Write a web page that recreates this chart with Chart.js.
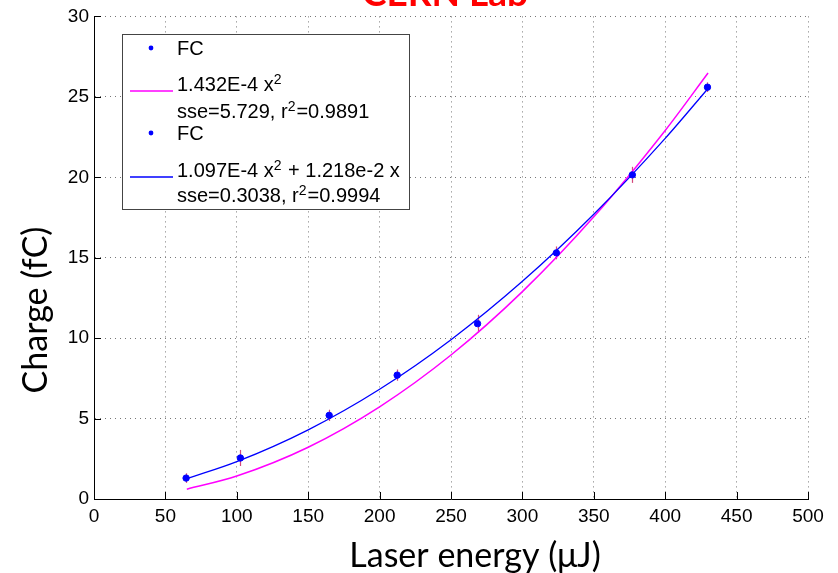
<!DOCTYPE html>
<html><head><meta charset="utf-8">
<script src="https://cdn.jsdelivr.net/npm/chart.js@4/dist/chart.umd.min.js"></script>
<style>html,body{margin:0;padding:0;background:#fff;}#wrap{width:838px;height:573px;}</style>
</head><body><div id="wrap"><canvas id="c" width="838" height="573"></canvas></div>
<script>
// ---- data ----
const chartTitle = 'CERN Lab';
const xTitle = 'Laser energy (μJ)';
const yTitle = 'Charge (fC)';
const energy = [64.5, 102.5, 164.7, 212.3, 268.6, 323.8, 377.0, 429.6];
const charge = [1.3, 2.55, 5.2, 7.7, 10.9, 15.3, 20.15, 25.6];
const chargeErr = [0.3, 0.5, 0.35, 0.35, 0.55, 0.4, 0.5, 0.3];
const fitEnergy = [65, 100, 150, 200, 250, 300, 350, 400, 430];
const fitQuad = [0.61, 1.43, 3.22, 5.73, 8.95, 12.89, 17.54, 22.91, 26.48];
const fitQuadLin = [1.26, 2.32, 4.30, 6.82, 9.90, 13.53, 17.70, 22.42, 25.52];
const xTicks = [0, 50, 100, 150, 200, 250, 300, 350, 400, 450, 500];
const yTicks = [0, 5, 10, 15, 20, 25, 30];
const legendRows = [
  {kind: 'dot', parts: [['FC', false]]},
  {kind: 'magenta', parts: [['1.432E-4 x', false], ['2', true]]},
  {kind: 'none', parts: [['sse=5.729, r', false], ['2', true], ['=0.9891', false]]},
  {kind: 'dot', parts: [['FC', false]]},
  {kind: 'blue', parts: [['1.097E-4 x', false], ['2', true], [' + 1.218e-2 x', false]]},
  {kind: 'none', parts: [['sse=0.3038, r', false], ['2', true], ['=0.9994', false]]}
];

const BLUE = '#0000ff', MAG = '#ff00ff', ERR = 'rgba(205,40,100,0.85)';
const FONT = '"Liberation Sans", Arial, sans-serif';

const pts = (xs, ys) => xs.map((x, i) => ({x: x, y: ys[i]}));

const overlay = {
  id: 'overlay',
  beforeDatasetsDraw(chart) {
    const {ctx, scales: {x, y}} = chart;
    ctx.save();
    ctx.setLineDash([]);
    ctx.strokeStyle = ERR; ctx.lineWidth = 1.2;
    energy.forEach((e, i) => {
      const px = Math.round(x.getPixelForValue(e)) + 0.5;
      ctx.beginPath();
      ctx.moveTo(px, y.getPixelForValue(charge[i] - chargeErr[i]));
      ctx.lineTo(px, y.getPixelForValue(charge[i] + chargeErr[i]));
      ctx.stroke();
    });
    ctx.restore();
  },
  afterDraw(chart) {
    const {ctx, scales: {x, y}, chartArea: a} = chart;
    ctx.save();
    ctx.setLineDash([]);
    // inward ticks
    ctx.strokeStyle = '#000'; ctx.lineWidth = 1;
    xTicks.forEach(v => {
      const px = Math.round(x.getPixelForValue(v)) + 0.5;
      ctx.beginPath(); ctx.moveTo(px, a.bottom); ctx.lineTo(px, a.bottom - 7); ctx.stroke();
    });
    yTicks.forEach(v => {
      const py = Math.round(y.getPixelForValue(v)) + 0.5;
      ctx.beginPath(); ctx.moveTo(a.left, py); ctx.lineTo(a.left + 7, py); ctx.stroke();
    });
    // title
    ctx.fillStyle = '#ff0000';
    ctx.font = 'bold 37px Lato, "Open Sans", sans-serif';
    ctx.textAlign = 'center'; ctx.textBaseline = 'alphabetic';
    ctx.fillText(chartTitle, 445, 6);
    // axis titles
    ctx.fillStyle = '#000';
    ctx.font = '34px Lato, "Open Sans", sans-serif';
    ctx.fillText(xTitle, 475, 567);
    ctx.save();
    ctx.translate(47, 310); ctx.rotate(-Math.PI / 2);
    ctx.fillText(yTitle, 0, 0);
    ctx.restore();
    // legend box
    const L = 122, T = 34, R = 409, B = 209;
    ctx.fillStyle = '#fff'; ctx.fillRect(L, T, R - L, B - T);
    ctx.strokeStyle = '#444'; ctx.lineWidth = 1;
    ctx.strokeRect(L + 0.5, T + 0.5, R - L, B - T);
    const baselines = [55, 91, 118, 140, 177, 202];
    const tx = 177;
    legendRows.forEach((row, i) => {
      const bl = baselines[i];
      if (row.kind === 'dot') {
        ctx.fillStyle = BLUE;
        ctx.beginPath(); ctx.arc(151, bl - 7, 2.4, 0, Math.PI * 2); ctx.fill();
      } else if (row.kind === 'magenta' || row.kind === 'blue') {
        ctx.strokeStyle = row.kind === 'magenta' ? MAG : BLUE;
        ctx.lineWidth = 1.5;
        ctx.beginPath(); ctx.moveTo(130, bl); ctx.lineTo(173, bl); ctx.stroke();
      }
      let cx = tx;
      ctx.fillStyle = '#000'; ctx.textAlign = 'left'; ctx.textBaseline = 'alphabetic';
      row.parts.forEach(([t, sup]) => {
        ctx.font = (sup ? '14px ' : '20px ') + FONT;
        ctx.fillText(t, cx, sup ? bl - 7 : bl);
        cx += ctx.measureText(t).width + (sup ? 1 : 0);
      });
    });
    ctx.restore();
  }
};

new Chart(document.getElementById('c'), {
  type: 'scatter',
  data: {
    datasets: [
      {label: 'FC', data: pts(energy, charge), backgroundColor: BLUE, borderColor: BLUE,
       pointRadius: 3.2, pointStyle: 'circle', showLine: false, order: 0},
      {label: '1.432E-4 x^2', data: pts(fitEnergy, fitQuad), borderColor: MAG, borderWidth: 1.5,
       showLine: true, pointRadius: 0, cubicInterpolationMode: 'monotone', order: 2},
      {label: '1.097E-4 x^2 + 1.218e-2 x', data: pts(fitEnergy, fitQuadLin), borderColor: BLUE, borderWidth: 1.3,
       showLine: true, pointRadius: 0, cubicInterpolationMode: 'monotone', order: 1}
    ]
  },
  options: {
    responsive: false, animation: false, devicePixelRatio: 1,
    layout: {padding: {top: 15, right: 30, left: 0, bottom: 0}},
    plugins: {legend: {display: false}, tooltip: {enabled: false}, title: {display: false}},
    scales: {
      x: {
        type: 'linear', min: 0, max: 500,
        afterBuildTicks: s => { s.ticks = xTicks.map(v => ({value: v})); },
        afterFit: s => { s.height = 74; },
        ticks: {color: '#000', font: {family: FONT, size: 19}, padding: 6, maxRotation: 0},
        grid: {color: '#777', lineWidth: 1, drawTicks: false},
        border: {display: true, color: '#000', width: 1, dash: [1, 4]}
      },
      y: {
        type: 'linear', min: 0, max: 30,
        afterBuildTicks: s => { s.ticks = yTicks.map(v => ({value: v})); },
        afterFit: s => { s.width = 94; },
        ticks: {color: '#000', font: {family: FONT, size: 19}, padding: 5},
        grid: {color: '#777', lineWidth: 1, drawTicks: false},
        border: {display: true, color: '#000', width: 1, dash: [1, 4]}
      }
    }
  },
  plugins: [overlay]
});
</script></body></html>
